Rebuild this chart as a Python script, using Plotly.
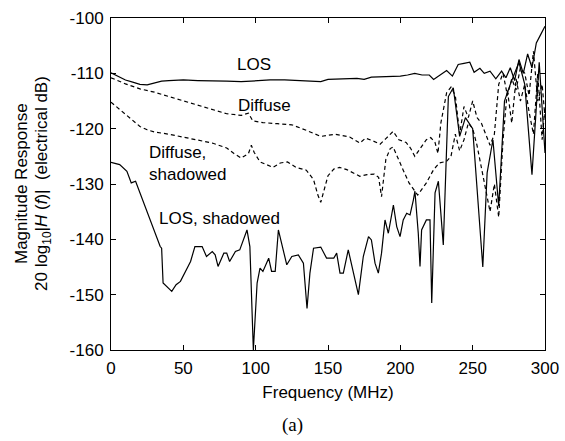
import plotly.graph_objects as go

# ---- data ----
los_f = [0, 5, 10, 15, 20, 25, 30, 35, 40, 50, 60, 70, 80, 90, 100, 110, 120, 130, 140, 145, 150, 160, 170, 175, 180, 190, 200, 205, 210, 215, 220, 223, 228, 232, 236, 240, 244, 248, 251, 255, 258, 262, 266, 270, 273, 276, 279, 282, 285, 288, 291, 294, 297, 299, 300]
los_db = [-109.9, -110.5, -111.2, -111.6, -112.0, -112.1, -111.8, -111.4, -111.3, -111.2, -111.3, -111.3, -111.4, -111.5, -111.3, -111.2, -111.2, -111.3, -111.4, -111.5, -111.1, -111.0, -110.9, -111.1, -110.7, -110.6, -110.5, -110.3, -110.0, -110.3, -110.3, -111.1, -110.2, -109.5, -110.5, -108.4, -108.2, -108.0, -109.8, -109.1, -110.0, -109.6, -111.0, -109.6, -110.8, -109.0, -111.3, -107.5, -110.0, -106.5, -109.0, -104.5, -103.0, -102.0, -101.5]

dif_f = [0, 10, 20, 30, 40, 50, 60, 70, 80, 90, 95, 98, 105, 115, 125, 135, 145, 155, 165, 172, 176, 181, 186, 190, 195, 199, 204, 207, 210, 214, 218, 221, 224, 226, 228, 232, 235, 238, 241, 244, 247, 250, 253, 256, 259, 262, 265, 268, 271, 274, 277, 280, 283, 286, 289, 292, 295, 298, 300]
dif_db = [-110.8, -111.9, -112.8, -113.4, -114.2, -115.0, -115.8, -116.6, -117.3, -117.6, -117.2, -118.6, -118.9, -119.1, -119.3, -120.3, -121.4, -121.0, -121.5, -122.6, -121.7, -122.2, -122.8, -121.8, -120.5, -122.0, -122.5, -123.5, -125.0, -123.5, -122.0, -121.6, -122.5, -124.5, -119.0, -113.5, -112.5, -114.0, -121.0, -116.0, -118.0, -115.0, -118.0, -119.0, -121.0, -123.0, -121.0, -112.0, -110.0, -114.0, -111.0, -113.0, -109.0, -110.0, -114.0, -106.0, -115.0, -112.0, -118.0]

difsh_f = [0, 5, 10, 15, 20, 25, 30, 40, 50, 60, 70, 80, 85, 90, 95, 97, 99, 103, 108, 112, 117, 122, 128, 135, 140, 143, 145, 147, 150, 154, 158, 163, 168, 172, 177, 182, 185, 187, 190, 193, 195, 198, 202, 206, 212, 218, 223, 227, 232, 235, 238, 241, 244, 247, 250, 253, 256, 259, 262, 265, 268, 271, 274, 277, 280, 283, 286, 289, 292, 295, 298, 300]
difsh_db = [-115.2, -116.3, -117.5, -118.6, -119.6, -120.2, -120.6, -121.0, -121.5, -122.0, -122.6, -123.5, -124.5, -125.3, -124.5, -123.0, -124.3, -126.0, -126.5, -127.0, -126.2, -126.0, -127.0, -127.5, -129.2, -132.0, -133.3, -131.5, -128.5, -127.3, -127.0, -127.4, -128.0, -128.6, -128.3, -128.2, -128.8, -132.3, -125.5, -123.6, -123.3, -125.2, -127.5, -129.8, -132.0, -129.8, -127.4, -126.2, -125.9, -125.0, -121.0, -124.0, -122.0, -119.0, -120.0, -123.0, -127.0, -131.0, -135.0, -130.0, -136.0, -122.0, -113.0, -119.0, -111.0, -115.0, -112.0, -117.0, -121.0, -110.0, -122.0, -116.0]

lossh_f = [0, 6, 11, 14, 17, 20, 34, 35, 36, 42, 45, 48, 51, 55, 58, 63, 66, 70, 72, 74, 78, 80, 82, 86, 89, 94, 96, 98.4, 101, 103, 105, 109, 111, 113.5, 115.7, 118, 121.5, 125, 129.5, 133, 135.5, 137.5, 140, 145, 149, 154, 156, 158.3, 160.6, 164, 167.5, 171, 174.4, 178, 180, 182.5, 184.8, 187, 189.4, 191.7, 195.2, 197.5, 199.8, 202, 204.4, 206.7, 209, 210.1, 212.4, 213.6, 214.7, 218, 220.5, 221.7, 224, 226.3, 229.7, 233.2, 236.6, 241, 245, 250, 257, 260, 264, 268, 272, 276, 282, 286, 291, 296, 300]
lossh_db = [-126.1, -126.5, -127.7, -129.8, -129.5, -131.6, -141.3, -141.6, -147.9, -149.4, -148.2, -147.6, -146.1, -144.0, -141.3, -141.3, -143.1, -142.2, -142.8, -144.9, -142.5, -142.5, -144.0, -142.2, -141.9, -138.3, -141.3, -160.0, -147.9, -145.2, -145.8, -143.4, -145.8, -145.8, -138.3, -141.0, -144.6, -143.1, -142.8, -144.3, -152.5, -146.1, -141.6, -141.4, -143.4, -143.4, -142.5, -146.1, -146.1, -141.9, -146.1, -150.0, -143.1, -139.5, -140.1, -144.3, -146.1, -142.5, -136.5, -138.9, -133.8, -137.7, -139.5, -136.5, -135.3, -135.6, -132.9, -131.3, -138.9, -144.9, -138.3, -136.5, -136.5, -151.5, -131.6, -129.5, -141.0, -114.2, -112.6, -121.4, -118.0, -120.0, -145.0, -128.0, -122.0, -134.0, -115.0, -112.0, -108.0, -112.0, -128.3, -108.0, -124.4]

x_ticks = [0, 50, 100, 150, 200, 250, 300]
y_ticks = [-160, -150, -140, -130, -120, -110, -100]
y_tick_labels = ["-160", "-150", "-140", "-130", "-120", "-110", "-100"]

FONT = "Liberation Sans"
FS = 17

fig = go.Figure()
fig.add_trace(go.Scatter(x=los_f, y=los_db, mode="lines", line=dict(color="black", width=1.2), showlegend=False))
fig.add_trace(go.Scatter(x=dif_f, y=dif_db, mode="lines", line=dict(color="black", width=1.2, dash="4px,3px"), showlegend=False))
fig.add_trace(go.Scatter(x=difsh_f, y=difsh_db, mode="lines", line=dict(color="black", width=1.2, dash="4px,3px"), showlegend=False))
fig.add_trace(go.Scatter(x=lossh_f, y=lossh_db, mode="lines", line=dict(color="black", width=1.2), showlegend=False))

axis_common = dict(
    showline=True, linecolor="black", linewidth=1, mirror="ticks",
    ticks="inside", ticklen=5, tickcolor="black", showgrid=False, zeroline=False,
    tickfont=dict(family=FONT, size=FS, color="black"),
)
fig.update_xaxes(range=[0, 300], tickvals=x_ticks, ticklabelstandoff=3,
                 title=dict(text="Frequency (MHz)", font=dict(family=FONT, size=FS, color="black"), standoff=8),
                 **axis_common)
fig.update_yaxes(range=[-160, -100], tickvals=y_ticks, ticktext=y_tick_labels, ticklabelstandoff=3, **axis_common)

ann_font = dict(family=FONT, size=FS, color="black")
fig.add_annotation(x=98.8, y=-108.4, text="LOS", showarrow=False, font=ann_font)
fig.add_annotation(x=105.8, y=-115.8, text="Diffuse", showarrow=False, font=ann_font)
fig.add_annotation(x=24.6, y=-126.3, text="Diffuse,<br>shadowed", showarrow=False, font=ann_font, xanchor="left", align="left")
fig.add_annotation(x=75.3, y=-136.3, text="LOS, shadowed", showarrow=False, font=ann_font)

# y axis title as two rotated lines
fig.add_annotation(xref="paper", yref="paper", x=0, y=0.5, xshift=-90, text="Magnitude Response",
                   textangle=-90, showarrow=False, font=ann_font, xanchor="center", yanchor="middle")
fig.add_annotation(xref="paper", yref="paper", x=0, y=0.5, xshift=-68,
                   text="20 log<sub>10</sub>|<i>H</i> (<i>f</i>)|  (electrical dB)",
                   textangle=-90, showarrow=False, font=ann_font, xanchor="center", yanchor="middle")
# caption
fig.add_annotation(xref="paper", yref="paper", x=(292 - 111) / 434, y=0, yshift=-75, text="(a)",
                   showarrow=False, font=dict(family="Liberation Serif", size=19, color="black"),
                   xanchor="center", yanchor="middle")

fig.update_layout(
    width=565, height=441,
    margin=dict(l=111, r=20, t=18, b=91, autoexpand=False),
    plot_bgcolor="white", paper_bgcolor="white",
)

fig.write_html("out.html")
